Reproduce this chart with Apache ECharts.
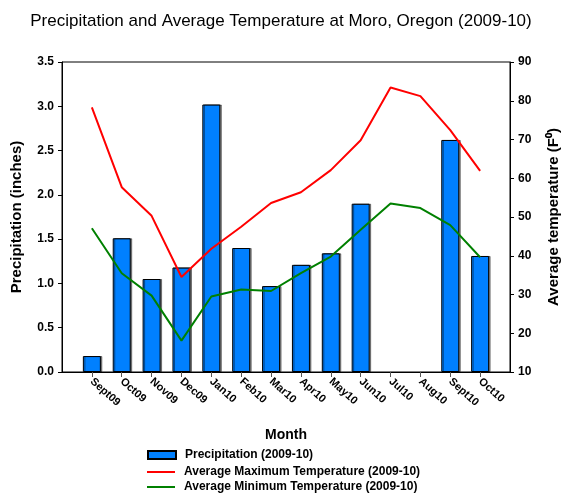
<!DOCTYPE html>
<html lang="en">
<head>
  <meta charset="utf-8">
  <title>Precipitation and Average Temperature at Moro, Oregon</title>
  <script src="https://cdn.jsdelivr.net/npm/echarts@6/dist/echarts.min.js"></script>
  <style>
    html, body, #chart { width: 562px; height: 497px; margin: 0; padding: 0; overflow: hidden; background: #fff; }
  </style>
</head>
<body>
  <div id="chart"></div>
  <script>
    // data
    var months = ['Sept09', 'Oct09', 'Nov09', 'Dec09', 'Jan10', 'Feb10', 'Mar10',
                  'Apr10', 'May10', 'Jun10', 'Jul10', 'Aug10', 'Sept10', 'Oct10'];
    var precip = [0.18, 1.51, 1.05, 1.18, 3.02, 1.40, 0.97, 1.21, 1.34, 1.90, null, null, 2.62, 1.31];
    var maxTemp = [78.3, 57.7, 50.3, 34.5, 41.8, 47.5, 53.6, 56.4, 62.1, 69.8, 83.4, 81.2, 72.4, 61.9];
    var minTemp = [47.1, 35.5, 29.7, 18.1, 29.5, 31.3, 30.9, 35.5, 39.8, 46.7, 53.5, 52.3, 47.9, 39.6];

    var barName = 'Precipitation (2009-10)';
    var maxName = 'Average Maximum Temperature (2009-10)';
    var minName = 'Average Minimum Temperature (2009-10)';

    // the axis has one empty slot on each side of the months
    function pad(arr) { return [null].concat(arr, [null]); }
    var cats = [''].concat(months, ['']);
    var inner = function (i) { return i > 0 && i < cats.length - 1; };

    var chart = echarts.init(document.getElementById('chart'));
    var font = 'Liberation Sans, Arial, sans-serif';
    var legendText = { fontFamily: font, fontSize: 12, fontWeight: 'bold', color: '#000', lineHeight: 14, padding: [0, 0, 0, 4] };
    var nameText = { fontFamily: font, fontSize: 15, fontWeight: 'bold', color: '#000' };
    var tickText = { fontFamily: font, fontSize: 12, fontWeight: 'bold', color: '#000' };

    var option = {
      animation: false,
      title: {
        text: 'Precipitation and Average Temperature at Moro, Oregon (2009-10)',
        left: 'center', top: 8,
        textStyle: { fontFamily: font, fontSize: 17, fontWeight: 'normal', color: '#000' }
      },
      grid: {
        left: 62, right: 52, top: 62, bottom: 125,
        outerBoundsMode: 'none',
        show: true, borderColor: '#000', borderWidth: 1
      },
      legend: [{
        orient: 'vertical', left: 147, top: 448, padding: 0,
        itemWidth: 28, itemHeight: 8, icon: 'rect',
        textStyle: legendText,
        data: [barName]
      }, {
        orient: 'vertical', left: 147, top: 465, padding: 0,
        itemWidth: 28, itemHeight: 2, itemGap: 1, icon: 'rect',
        textStyle: legendText,
        data: [maxName, minName]
      }],
      xAxis: {
        type: 'category', data: cats, boundaryGap: false,
        name: 'Month', nameLocation: 'middle', nameGap: 56,
        nameTextStyle: { fontFamily: font, fontSize: 14, fontWeight: 'bold', color: '#000' },
        axisLine: { lineStyle: { color: '#000', width: 1 } },
        axisTick: { length: 5, interval: inner, lineStyle: { color: '#555' } },
        axisLabel: Object.assign({ interval: inner, rotate: -42, margin: 8 }, tickText, { fontSize: 11 }),
        splitLine: { show: false }
      },
      yAxis: [{
        type: 'value', min: 0, max: 3.5, interval: 0.5,
        name: 'Precipitation (inches)', nameLocation: 'middle', nameGap: 38,
        nameTextStyle: nameText,
        axisLine: { show: true, lineStyle: { color: '#000' } },
        axisTick: { show: true, length: 4, lineStyle: { color: '#000' } },
        axisLabel: Object.assign({
          margin: 8,
          formatter: function (v) { return v.toFixed(1); }
        }, tickText),
        splitLine: { show: false }
      }, {
        type: 'value', min: 10, max: 90, interval: 10,
        name: 'Average temperature (F\u2070)', nameLocation: 'middle', nameGap: 36,
        nameTextStyle: nameText,
        axisLine: { show: true, lineStyle: { color: '#000' } },
        axisTick: { show: true, length: 4, lineStyle: { color: '#000' } },
        axisLabel: Object.assign({ margin: 8 }, tickText),
        splitLine: { show: false }
      }],
      series: [{
        name: barName, type: 'bar', yAxisIndex: 0,
        data: pad(precip), barWidth: 18,
        itemStyle: {
          color: '#0080ff', borderColor: '#000', borderWidth: 1,
          shadowColor: 'rgba(0,0,0,0.45)', shadowOffsetX: 1.5, shadowOffsetY: 0, shadowBlur: 0
        }
      }, {
        name: maxName, type: 'line', yAxisIndex: 1,
        data: pad(maxTemp), symbol: 'none',
        lineStyle: { color: '#ff0000', width: 2 }, itemStyle: { color: '#ff0000' }
      }, {
        name: minName, type: 'line', yAxisIndex: 1,
        data: pad(minTemp), symbol: 'none',
        lineStyle: { color: '#008000', width: 2 }, itemStyle: { color: '#008000' }
      }]
    };
    chart.setOption(option);
  </script>
</body>
</html>
